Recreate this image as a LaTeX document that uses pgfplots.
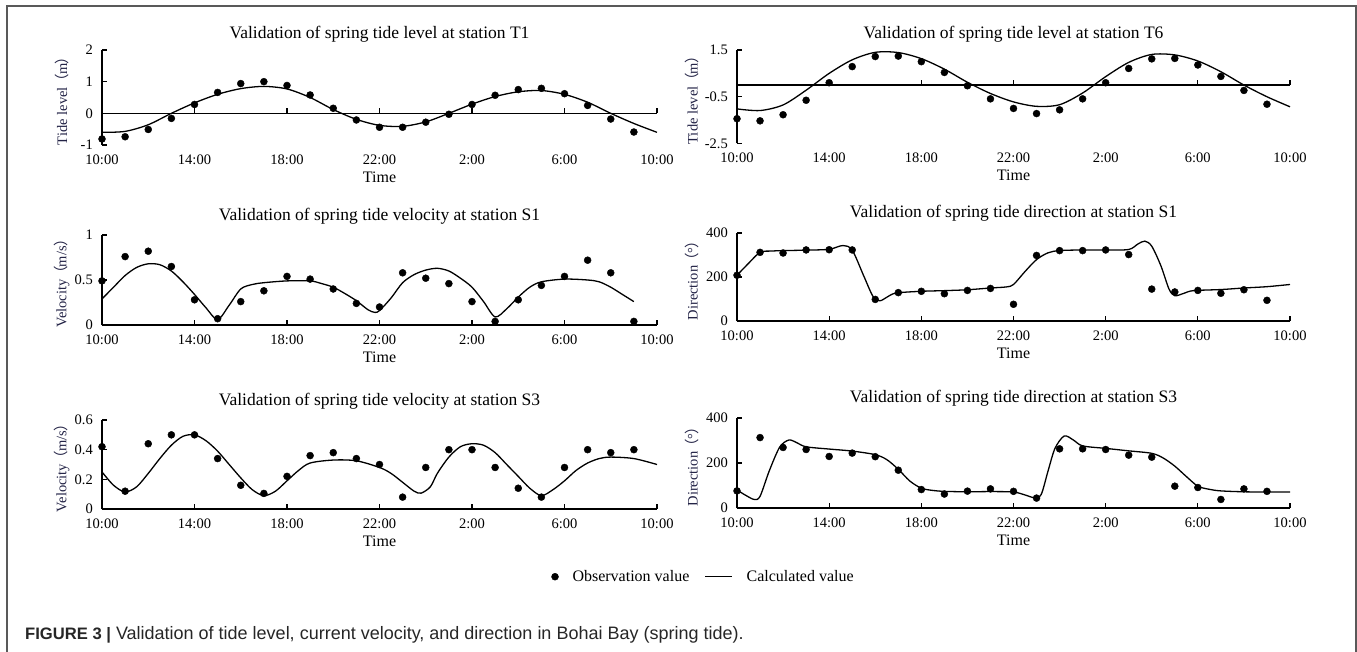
\documentclass[border=0pt]{standalone}
\usepackage{fontspec}
\setmainfont{Liberation Serif}
\newfontfamily\capfont{Liberation Sans}
\newfontfamily\cjk{Noto Sans CJK SC}
\usepackage{pgfplots}
\usepackage{pgfplotstable}
\pgfplotsset{compat=1.18}
\definecolor{ylab}{RGB}{35,35,70}

% ---- observations (hour after 10:00, value)
\pgfplotstableread{
h v
0 -0.81
1 -0.74
2 -0.51
3 -0.16
4 0.28
5 0.66
6 0.94
7 1.00
8 0.88
9 0.58
10 0.16
11 -0.21
12 -0.44
13 -0.44
14 -0.28
15 -0.03
16 0.28
17 0.57
18 0.75
19 0.79
20 0.62
21 0.25
22 -0.18
23 -0.59
}\tIobs
\pgfplotstableread{
h v
0 -0.60
1 -0.57
2 -0.36
3 0.00
4 0.33
5 0.60
6 0.78
7 0.85
8 0.77
9 0.50
10 0.12
11 -0.19
12 -0.38
13 -0.41
14 -0.27
15 0.00
16 0.29
17 0.53
18 0.68
19 0.72
20 0.60
21 0.35
22 0.00
23 -0.32
24 -0.60
}\tIcal
\pgfplotstableread{
h v
0 -1.44
1 -1.53
2 -1.27
3 -0.65
4 0.10
5 0.79
6 1.22
7 1.24
8 1.00
9 0.54
10 -0.03
11 -0.59
12 -1.00
13 -1.22
14 -1.06
15 -0.59
16 0.10
17 0.71
18 1.12
19 1.14
20 0.86
21 0.37
22 -0.23
23 -0.82
}\tVIobs
\pgfplotstableread{
h v
0 -1.02
1 -1.09
2 -0.85
3 -0.22
4 0.50
5 1.08
6 1.40
7 1.39
8 1.13
9 0.68
10 0.12
11 -0.36
12 -0.72
13 -0.91
14 -0.84
15 -0.34
16 0.36
17 0.97
18 1.31
19 1.29
20 1.03
21 0.57
22 0.00
23 -0.50
24 -0.93
}\tVIcal
\pgfplotstableread{
h v
0 0.49
1 0.76
2 0.82
3 0.65
4 0.28
5 0.07
6 0.26
7 0.38
8 0.54
9 0.51
10 0.40
11 0.24
12 0.20
13 0.58
14 0.52
15 0.46
16 0.26
17 0.04
18 0.28
19 0.44
20 0.54
21 0.72
22 0.58
23 0.04
}\vIobs
\pgfplotstableread{
h v
0 0.29
0.5 0.42
1 0.55
1.5 0.64
2 0.68
2.5 0.67
3 0.60
3.5 0.48
4 0.34
4.5 0.19
5 0.06
5.5 0.22
6 0.40
6.5 0.45
7 0.47
8 0.49
9 0.49
9.5 0.46
10 0.42
10.5 0.35
11 0.27
11.5 0.17
11.8 0.14
12 0.16
12.5 0.30
13 0.47
13.5 0.56
14 0.61
14.5 0.63
15 0.60
15.5 0.52
16 0.42
16.5 0.26
17 0.09
17.5 0.18
18 0.31
18.5 0.42
19 0.48
20 0.51
21 0.50
21.5 0.48
22 0.42
22.5 0.34
23 0.26
}\vIcal
\pgfplotstableread{
h v
0 208
1 312
2 309
3 323
4 324
5 323
6 98
7 129
8 135
9 124
10 139
11 148
12 76
13 298
14 320
15 320
16 323
17 302
18 145
19 132
20 139
21 126
22 142
23 94
}\dIobs
\pgfplotstableread{
h v
0 208
0.5 262
1 312
1.5 318
2 320
3 322
4 326
4.6 343
5 322
5.5 205
5.9 112
6.2 92
6.5 108
6.9 127
8 135
9 138
10 142
11 150
11.7 155
12 166
12.5 225
13 279
13.5 310
14 320
15 323
16 323
17 325
17.4 350
17.7 363
18.0 340
18.4 250
18.75 145
19 115
19.4 126
19.8 138
21 143
22 150
23 156
24 166
}\dIcal
\pgfplotstableread{
h v
0 0.42
1 0.12
2 0.44
3 0.50
4 0.50
5 0.34
6 0.16
7 0.105
8 0.22
9 0.36
10 0.38
11 0.34
12 0.30
13 0.08
14 0.28
15 0.40
16 0.40
17 0.28
18 0.14
19 0.08
20 0.28
21 0.40
22 0.38
23 0.40
}\vIIIobs
\pgfplotstableread{
h v
0 0.25
0.5 0.16
1 0.115
1.5 0.15
2 0.24
2.5 0.34
3 0.43
3.5 0.49
4 0.50
4.5 0.46
5 0.39
5.5 0.30
6 0.21
6.5 0.13
7 0.09
7.5 0.12
8 0.19
8.5 0.26
9 0.31
10 0.33
11 0.325
12 0.28
12.5 0.24
13 0.18
13.5 0.12
13.8 0.107
14.2 0.15
14.5 0.24
15 0.35
15.5 0.42
16 0.44
16.5 0.43
17 0.38
17.5 0.30
18 0.22
18.5 0.14
19 0.09
19.5 0.13
20 0.19
20.5 0.26
21 0.31
21.5 0.34
22 0.35
23 0.34
24 0.30
}\vIIIcal
\pgfplotstableread{
h v
0 76
1 313
2 269
3 260
4 229
5 244
6 228
7 168
8 82
9 62
10 75
11 85
12 74
13 44
14 263
15 263
16 260
17 235
18 226
19 97
20 91
21 38
22 85
23 74
}\dIIIobs
\pgfplotstableread{
h v
0 80
0.4 55
0.75 38
1.0 52
1.4 165
1.85 270
2.25 302
2.6 290
3 272
4 262
5 253
6 237
6.5 215
7 172
7.5 120
8 88
8.5 78
9 74
10 72
11 73
12 71
12.5 58
12.9 46
13.2 60
13.5 165
13.8 265
14.2 320
14.6 302
15 276
16 265
17 254
18 243
18.5 222
19 186
19.5 140
20 97
20.5 83
21 76
22 72
23 71
24 71
}\dIIIcal

\newcommand{\paren}[1]{\kern-0.1em{\cjk （}\kern-0.05em#1\kern-0.05em{\cjk ）}}

\pgfplotsset{
  panel/.style={
    scale only axis,
    xmin=0, xmax=24, xtick={0,4,...,24},
    xticklabels={10:00,14:00,18:00,22:00,2:00,6:00,10:00},
    axis y line=left,
    axis line style={-, line width=1.2pt},
    tick align=inside,
    major tick length=5pt,
    tick style={line width=1.2pt, black},
    hide obscured x ticks=false, hide obscured y ticks=false,
    clip=false,
    xlabel={Time},
    tick label style={font=\fontsize{14.5}{16}\selectfont},
    yticklabel style={anchor=east, inner sep=0pt, xshift=-9pt},
    every axis title/.style={at={(axis description cs:0.5,1)}, anchor=base,
      yshift=15pt, font=\fontsize{17.5}{20}\selectfont},
    every axis x label/.style={at={(axis description cs:0.5,0)}, anchor=base,
      yshift=-37.5pt, font=\fontsize{16}{18}\selectfont},
    every axis y label/.style={at={(axis description cs:-0.0726,0.5)}, rotate=90,
      anchor=center, text=ylab, font=\fontsize{14.5}{16}\selectfont},
  },
  rightpanel/.style={panel, width=553pt,
    every axis y label/.style={at={(axis description cs:-0.0814,0.5)}, rotate=90,
      anchor=center, text=ylab, font=\fontsize{14.5}{16}\selectfont}},
  leftpanel/.style={panel, width=555pt},
  obs/.style={only marks, mark=*, mark size=3.5pt, black},
  calc/.style={black, line width=1.3pt, smooth, mark=none},
  calclegend/.style={legend image code/.code={\draw[##1] (0pt,0pt) -- (27pt,0pt);}},
}

\begin{document}
\begin{tikzpicture}[x=1pt, y=1pt]
\path[use as bounding box] (0,0) rectangle (1357,-652);
\draw[black!65, line width=1.2pt] (7,-652) -- (7,-6) -- (1356,-6) -- (1356,-652);

% T1 tide level
\begin{axis}[axis x line=middle, leftpanel, at={(102pt,-145pt)}, anchor=south west, height=95pt,
  ymin=-1, ymax=2, ytick={-1,0,1,2}, yticklabels={-1,0,1,2},
  xticklabel style={anchor=base, yshift=-50.7pt},
  title={Validation of spring tide level at station T1},
  title style={yshift=-4pt},
  ylabel={Tide level\paren{m}}]
\addplot[obs] table[x=h, y=v] {\tIobs};
\addplot[calc] table[x=h, y=v] {\tIcal};
\end{axis}

% T6 tide level
\begin{axis}[axis x line=middle, rightpanel, at={(737pt,-143.5pt)}, anchor=south west, height=93.5pt,
  ymin=-2.5, ymax=1.5, ytick={-2.5,-0.5,1.5}, yticklabels={-2.5,-0.5,1.5},
  xticklabel style={anchor=base, yshift=-77.4pt},
  title={Validation of spring tide level at station T6},
  title style={yshift=-4pt},
  ylabel={Tide level\paren{m}}]
\addplot[obs] table[x=h, y=v] {\tVIobs};
\addplot[calc] table[x=h, y=v] {\tVIcal};
\end{axis}

% S1 velocity
\begin{axis}[axis x line=bottom, leftpanel, at={(102pt,-325pt)}, anchor=south west, height=90pt,
  ymin=0, ymax=1, ytick={0,0.5,1}, yticklabels={0,0.5,1},
  xticklabel style={anchor=base, yshift=-19pt},
  title={Validation of spring tide velocity at station S1},
  ylabel={Velocity\paren{m/s}}]
\addplot[obs] table[x=h, y=v] {\vIobs};
\addplot[calc] table[x=h, y=v] {\vIcal};
\end{axis}

% S1 direction
\begin{axis}[axis x line=bottom, rightpanel, at={(737pt,-321pt)}, anchor=south west, height=88pt,
  ymin=0, ymax=400, ytick={0,200,400}, yticklabels={0,200,400},
  xticklabel style={anchor=base, yshift=-19pt},
  title={Validation of spring tide direction at station S1},
  ylabel={Direction\paren{°}}]
\addplot[obs] table[x=h, y=v] {\dIobs};
\addplot[calc] table[x=h, y=v] {\dIcal};
\end{axis}

% S3 velocity (carries the legend)
\begin{axis}[axis x line=bottom, leftpanel, at={(102pt,-509pt)}, anchor=south west, height=89pt,
  ymin=0, ymax=0.6, ytick={0,0.2,0.4,0.6}, yticklabels={0,0.2,0.4,0.6},
  xticklabel style={anchor=base, yshift=-19pt},
  title={Validation of spring tide velocity at station S3},
  ylabel={Velocity\paren{m/s}},
  legend style={at={(axis description cs:1.084,-0.761)}, anchor=center,
    draw=none, fill=none, legend columns=2, font=\fontsize{16}{18}\selectfont,
    /tikz/every odd column/.append style={column sep=12pt},
    /tikz/every even column/.append style={column sep=13pt}}]
\addplot[obs] table[x=h, y=v] {\vIIIobs};
\addlegendentry{Observation value}
\addplot[calc, calclegend] table[x=h, y=v] {\vIIIcal};
\addlegendentry{Calculated value}
\end{axis}

% S3 direction
\begin{axis}[axis x line=bottom, rightpanel, at={(737pt,-508pt)}, anchor=south west, height=90pt,
  ymin=0, ymax=400, ytick={0,200,400}, yticklabels={0,200,400},
  xticklabel style={anchor=base, yshift=-19pt},
  title={Validation of spring tide direction at station S3},
  ylabel={Direction\paren{°}}]
\addplot[obs] table[x=h, y=v] {\dIIIobs};
\addplot[calc] table[x=h, y=v] {\dIIIcal};
\end{axis}

\node[anchor=base west, inner sep=0pt, text=black!85] at (25,-639)
  {\capfont{\fontsize{16.6}{20}\selectfont\bfseries FIGURE 3 |}\fontsize{18}{20}\selectfont\ Validation of tide level, current velocity, and direction in Bohai Bay (spring tide).};
\end{tikzpicture}
\end{document}
